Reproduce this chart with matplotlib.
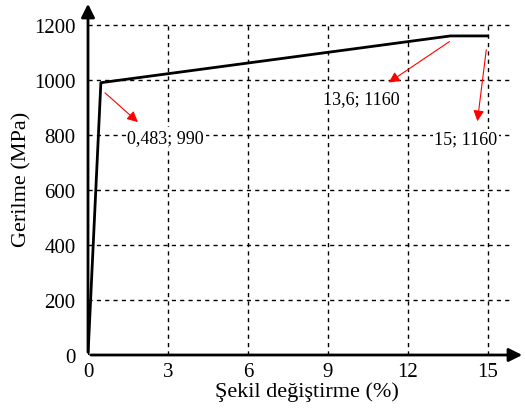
import matplotlib.pyplot as plt

# data
strain = [0, 0.483, 13.6, 15]
stress = [0, 990, 1160, 1160]

x_ticks = [0, 3, 6, 9, 12, 15]
y_ticks = [0, 200, 400, 600, 800, 1000, 1200]

labels = ["0,483; 990", "13,6; 1160", "15; 1160"]
arrow_from = [(0.56, 960), (13.65, 1145), (14.96, 1120)]
arrow_to = [(1.95, 840), (11.2, 985), (14.6, 840)]
text_pos = [(2.92, 792), (10.27, 931), (14.17, 785)]

plt.rcParams["font.family"] = ["Liberation Serif", "DejaVu Serif"]

fig = plt.figure(figsize=(5.25, 4.14), dpi=100)
ax = fig.add_axes([88 / 525, 58 / 414, 437 / 525, 354 / 414])
ax.set_xlim(0, 16.4)
ax.set_ylim(0, 1287)

# dashed grid
for y in y_ticks[1:]:
    ax.plot([0, 15.9], [y, y], color="k", lw=1, ls=(0, (3, 3)), zorder=1)
for x in x_ticks[1:]:
    ax.plot([x, x], [0, 1200], color="k", lw=1, ls=(0, (3, 3)), zorder=1)

ax.plot(strain, stress, color="k", lw=2, zorder=3)

for lab, a, b, t in zip(labels, arrow_from, arrow_to, text_pos):
    ax.annotate("", xy=b, xytext=a,
                arrowprops=dict(arrowstyle="-|>", color="red", lw=0.8,
                                mutation_scale=16), zorder=4)
    ax.text(t[0], t[1], lab, fontsize=13, ha="center", va="center",
            bbox=dict(facecolor="white", edgecolor="none", pad=1), zorder=2)

# axes with arrows
for s in ax.spines.values():
    s.set_visible(False)
ax.annotate("", xy=(1, 0), xytext=(0, 0), xycoords="axes fraction",
            arrowprops=dict(arrowstyle="-|>", color="k", lw=2, mutation_scale=20))
ax.annotate("", xy=(0, 1), xytext=(0, 0), xycoords="axes fraction",
            arrowprops=dict(arrowstyle="-|>", color="k", lw=2, mutation_scale=20))

ax.set_xticks(x_ticks)
ax.set_yticks(y_ticks)
ax.tick_params(length=0, labelsize=15)
ax.tick_params(axis="y", pad=9)
ax.tick_params(axis="x", pad=5)
ax.set_xlabel("Şekil değiştirme (%)", fontsize=16, labelpad=0)
ax.set_ylabel("Gerilme (MPa)", fontsize=16, labelpad=2)

fig.savefig("out.png", dpi=100)
